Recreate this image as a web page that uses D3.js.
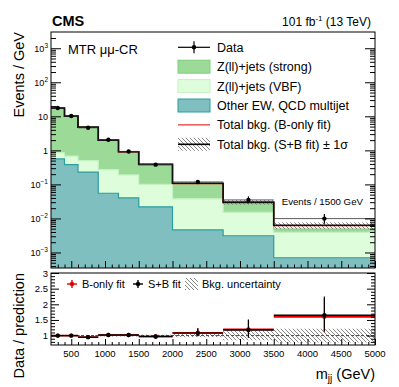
<!DOCTYPE html>
<html>
<head>
<meta charset="utf-8">
<script src="https://cdn.jsdelivr.net/npm/d3@7"></script>
<style>
body { margin: 0; background: #fff; }
svg text { font-family: "Liberation Sans", Arial, Helvetica, sans-serif; fill: #000; }
</style>
</head>
<body>
<div class="svg-container"></div>
<script>
var width = 399;
var height = 387;

// binning in m_jj (GeV)
var binEdges = [200, 400, 600, 900, 1200, 1500, 2000, 2750, 3500, 5000];
var binCenters = [300, 500, 750, 1050, 1350, 1750, 2375, 3125, 4250];

// events / GeV
var dataVals = [17.5, 10.2, 4.6, 2.04, 0.93, 0.38, 0.118, 0.035, 0.0099];
var dataErrUp = [0.03, 0.03, 0.04, 0.05, 0.06, 0.07, 0.14, 0.27, 0.36];   // relative
var dataErrDown = [0.03, 0.03, 0.04, 0.05, 0.06, 0.07, 0.09, 0.21, 0.30]; // relative
var otherEW = [0.56, 0.38, 0.23, 0.055, 0.040, 0.022, 0.0046, 0.0031, 0.0007];
var zjetsVBF = [0.29, 0.30, 0.27, 0.215, 0.15, 0.078, 0.033, 0.012, 0.0032];
var zjetsStrong = [16.6, 9.5, 4.3, 1.73, 0.72, 0.29, 0.07, 0.014, 0.001];
var totalSB = [17.5, 10.2, 4.8, 2.0, 0.91, 0.39, 0.108, 0.030, 0.0063];
var totalB = [17.3, 10.1, 4.75, 1.98, 0.90, 0.385, 0.106, 0.029, 0.0061];
var bkgUnc = [0.02, 0.02, 0.02, 0.03, 0.03, 0.03, 0.05, 0.15, 0.22]; // relative

// data / prediction
var ratioSB = [1.0, 1.0, 0.95, 1.02, 1.02, 0.97, 1.08, 1.18, 1.65];
var ratioB = [1.0, 1.0, 0.95, 1.02, 1.02, 0.97, 1.09, 1.20, 1.60];
var ratioErrUp = [0.03, 0.03, 0.03, 0.04, 0.05, 0.06, 0.15, 0.32, 0.60];
var ratioErrDown = [0.03, 0.03, 0.03, 0.04, 0.05, 0.06, 0.10, 0.25, 0.50];

// axis ticks
var xMajor = [500, 1000, 1500, 2000, 2500, 3000, 3500, 4000, 4500, 5000];
var yMajor = [1e-3, 1e-2, 1e-1, 1, 10, 100, 1000];
var yExponents = [-3, -2, -1, 0, 1, 2, 3];
var ratioMajor = [1, 1.5, 2, 2.5, 3];
var ratioLabels = ["1", "1.5", "2", "2.5", "3"];

var legendLabels = ["Data", "Z(ll)+jets (strong)", "Z(ll)+jets (VBF)", "Other EW, QCD multijet",
                    "Total bkg. (B-only fit)", "Total bkg. (S+B fit) \u00b1 1\u03c3"];

var colors = { strong: "#9cdb97", strongLine: "#7fcf7c",
               vbf: "#ddfddb", vbfLine: "#c4f2c2",
               other: "#80bfbf", otherLine: "#2b9e9e" };

var frame = { left: 51, right: 375, top: 32, bottom: 268 };
var rframe = { top: 273, bottom: 345 };

var svg = d3.select(".svg-container")
            .append("svg")
            .attr("width", width)
            .attr("height", height);

var defs = svg.append("defs");
var hatch = defs.append("pattern")
                .attr("id", "hatch")
                .attr("patternUnits", "userSpaceOnUse")
                .attr("width", 4)
                .attr("height", 4);
hatch.append("path")
     .attr("d", "M-1,3 L1,5 M0,0 L4,4 M3,-1 L5,1")
     .attr("stroke", "#555")
     .attr("stroke-width", 0.7);

defs.append("clipPath").attr("id", "mainClip")
    .append("rect")
    .attr("x", frame.left).attr("y", frame.top)
    .attr("width", frame.right - frame.left).attr("height", frame.bottom - frame.top);

// scales
var x = d3.scaleLinear().domain([200, 5000]).range([frame.left, frame.right]);
var y = d3.scaleLog().domain([3.5e-4, 3e3]).range([frame.bottom, frame.top]).clamp(true);
var yr = d3.scaleLinear().domain([0.7, 3]).range([rframe.bottom, rframe.top]);

function stepPoints(vals) {
    var pts = vals.map(function(v, i) { return { x: binEdges[i], v: v }; });
    pts.push({ x: binEdges[binEdges.length - 1], v: vals[vals.length - 1] });
    return pts;
}

// ---------- main panel ----------
var main = svg.append("g").attr("clip-path", "url(#mainClip)");

var rows = otherEW.map(function(d, i) {
    return { other: otherEW[i], vbf: zjetsVBF[i], strong: zjetsStrong[i] };
});
var stacked = d3.stack().keys(["other", "vbf", "strong"])(rows);

stacked.slice().reverse().forEach(function(layer) {
    var pts = layer.map(function(d, i) { return { x: binEdges[i], y0: d[0], y1: d[1] }; });
    var last = layer[layer.length - 1];
    pts.push({ x: binEdges[binEdges.length - 1], y0: last[0], y1: last[1] });

    var area = d3.area()
                 .curve(d3.curveStepAfter)
                 .x(function(d) { return x(d.x); })
                 .y0(function(d) { return y(Math.max(d.y0, 1e-5)); })
                 .y1(function(d) { return y(d.y1); });
    main.append("path")
        .datum(pts)
        .attr("fill", colors[layer.key])
        .attr("d", area);
});

// outline of each stacked layer
stacked.forEach(function(layer) {
    var line = d3.line()
                 .curve(d3.curveStepAfter)
                 .x(function(d) { return x(d.x); })
                 .y(function(d) { return y(d.v); });
    main.append("path")
        .datum(stepPoints(layer.map(function(d) { return d[1]; })))
        .attr("fill", "none")
        .attr("stroke", colors[layer.key + "Line"])
        .attr("stroke-width", 1.2)
        .attr("d", line);
});

// uncertainty band
main.selectAll(".band")
    .data(totalSB)
    .enter().append("rect")
    .attr("class", "band")
    .attr("x", function(d, i) { return x(binEdges[i]); })
    .attr("width", function(d, i) { return x(binEdges[i + 1]) - x(binEdges[i]); })
    .attr("y", function(d, i) { return y(d * (1 + bkgUnc[i])); })
    .attr("height", function(d, i) { return y(d * (1 - bkgUnc[i])) - y(d * (1 + bkgUnc[i])); })
    .attr("fill", "url(#hatch)");

var totLine = d3.line()
                .curve(d3.curveStepAfter)
                .x(function(d) { return x(d.x); })
                .y(function(d) { return y(d.v); });

main.append("path")
    .datum(stepPoints(totalB))
    .attr("fill", "none")
    .attr("stroke", "#d00000")
    .attr("stroke-width", 1.2)
    .attr("d", totLine);

main.append("path")
    .datum(stepPoints(totalSB))
    .attr("fill", "none")
    .attr("stroke", "#111")
    .attr("stroke-width", 1.7)
    .attr("d", totLine);

// data points
var dataG = main.append("g");
dataVals.forEach(function(v, i) {
    dataG.append("line")
         .attr("x1", x(binEdges[i])).attr("x2", x(binEdges[i + 1]))
         .attr("y1", y(v)).attr("y2", y(v))
         .attr("stroke", "#333").attr("stroke-width", 0.8);
    dataG.append("line")
         .attr("x1", x(binCenters[i])).attr("x2", x(binCenters[i]))
         .attr("y1", y(v * (1 + dataErrUp[i]))).attr("y2", y(v * (1 - dataErrDown[i])))
         .attr("stroke", "#000").attr("stroke-width", 1.2);
    dataG.append("circle")
         .attr("cx", x(binCenters[i])).attr("cy", y(v))
         .attr("r", 2.2).attr("fill", "#000");
});

// ticks (inward, ROOT style)
function noDomain(g) { g.select(".domain").remove(); }

var xMinor = d3.range(300, 5000, 100).filter(function(d) { return d % 500 !== 0; });
var yMinor = [];
d3.range(-4, 4).forEach(function(e) {
    d3.range(2, 10).forEach(function(m) { yMinor.push(m * Math.pow(10, e)); });
});
yMinor = yMinor.filter(function(d) { return d > 3.5e-4 && d < 3e3; });

svg.append("g").attr("transform", "translate(0," + frame.bottom + ")")
   .call(d3.axisBottom(x).tickValues(xMajor).tickSize(-7).tickFormat("")).call(noDomain);
svg.append("g").attr("transform", "translate(0," + frame.bottom + ")")
   .call(d3.axisBottom(x).tickValues(xMinor).tickSize(-3.5).tickFormat("")).call(noDomain);
svg.append("g").attr("transform", "translate(" + frame.left + ",0)")
   .call(d3.axisLeft(y).tickValues(yMajor).tickSize(-10).tickFormat("")).call(noDomain);
svg.append("g").attr("transform", "translate(" + frame.left + ",0)")
   .call(d3.axisLeft(y).tickValues(yMinor).tickSize(-5).tickFormat("")).call(noDomain);
svg.append("g").attr("transform", "translate(" + frame.right + ",0)")
   .call(d3.axisRight(y).tickValues(yMajor).tickSize(-10).tickFormat("")).call(noDomain);
svg.append("g").attr("transform", "translate(" + frame.right + ",0)")
   .call(d3.axisRight(y).tickValues(yMinor).tickSize(-5).tickFormat("")).call(noDomain);

svg.append("rect")
   .attr("x", frame.left).attr("y", frame.top)
   .attr("width", frame.right - frame.left).attr("height", frame.bottom - frame.top)
   .attr("fill", "none").attr("stroke", "#000").attr("stroke-width", 1);

// y tick labels
yMajor.forEach(function(v, i) {
    var t = svg.append("text")
               .attr("x", frame.left - 3)
               .attr("y", y(v) + 3.5)
               .attr("text-anchor", "end")
               .attr("font-size", 9);
    var e = yExponents[i];
    if (e === 0) { t.text("1"); }
    else if (e === 1) { t.text("10"); }
    else {
        t.append("tspan").text("10");
        t.append("tspan").attr("font-size", 6.5).attr("dy", -4).text(e < 0 ? "\u2212" + (-e) : e);
    }
});

// titles
svg.append("text").attr("x", 52).attr("y", 26)
   .attr("font-size", 14.5).attr("font-weight", "bold").text("CMS");

var lumi = svg.append("text").attr("x", 371).attr("y", 26)
              .attr("text-anchor", "end").attr("font-size", 12);
lumi.append("tspan").text("101 fb");
lumi.append("tspan").attr("font-size", 8).attr("dy", -5).text("-1");
lumi.append("tspan").attr("dy", 5).text(" (13 TeV)");

svg.append("text").attr("x", 68).attr("y", 54)
   .attr("font-size", 13).text("MTR \u03bc\u03bc-CR");

svg.append("text").attr("x", 363).attr("y", 205)
   .attr("text-anchor", "end").attr("font-size", 9.7).text("Events / 1500 GeV");

svg.append("text")
   .attr("transform", "translate(24," + frame.top + ") rotate(-90)")
   .attr("text-anchor", "end")
   .attr("font-size", 14.5)
   .text("Events / GeV");

// legend
var legX = 178, legW = 32, legTextX = 217;
var legY = [47.3, 66.7, 86.1, 105.5, 124.9, 144.3];
var leg = svg.append("g");

leg.append("line").attr("x1", legX).attr("x2", legX + legW)
   .attr("y1", legY[0]).attr("y2", legY[0]).attr("stroke", "#000").attr("stroke-width", 1.2);
leg.append("line").attr("x1", legX + legW / 2).attr("x2", legX + legW / 2)
   .attr("y1", legY[0] - 6).attr("y2", legY[0] + 6).attr("stroke", "#000").attr("stroke-width", 1.2);
leg.append("circle").attr("cx", legX + legW / 2).attr("cy", legY[0]).attr("r", 2.2).attr("fill", "#000");

[["strong", 1], ["vbf", 2], ["other", 3]].forEach(function(p) {
    leg.append("rect")
       .attr("x", legX).attr("y", legY[p[1]] - 6.5)
       .attr("width", legW).attr("height", 13)
       .attr("fill", colors[p[0]])
       .attr("stroke", colors[p[0] + "Line"]).attr("stroke-width", 1);
});

leg.append("line").attr("x1", legX).attr("x2", legX + legW)
   .attr("y1", legY[4]).attr("y2", legY[4]).attr("stroke", "#e00000").attr("stroke-width", 1);

leg.append("rect").attr("x", legX).attr("y", legY[5] - 6.5)
   .attr("width", legW).attr("height", 13).attr("fill", "url(#hatch)");
leg.append("line").attr("x1", legX).attr("x2", legX + legW)
   .attr("y1", legY[5]).attr("y2", legY[5]).attr("stroke", "#000").attr("stroke-width", 1.6);

legendLabels.forEach(function(l, i) {
    leg.append("text").attr("x", legTextX).attr("y", legY[i] + 4.5)
       .attr("font-size", 12.5).text(l);
});

// ---------- ratio panel ----------
defs.append("clipPath").attr("id", "ratioClip")
    .append("rect")
    .attr("x", frame.left).attr("y", rframe.top)
    .attr("width", frame.right - frame.left).attr("height", rframe.bottom - rframe.top);

var ratio = svg.append("g").attr("clip-path", "url(#ratioClip)");

ratio.selectAll(".rband")
     .data(bkgUnc)
     .enter().append("rect")
     .attr("x", function(d, i) { return x(binEdges[i]); })
     .attr("width", function(d, i) { return x(binEdges[i + 1]) - x(binEdges[i]); })
     .attr("y", function(d) { return yr(1 + d); })
     .attr("height", function(d) { return yr(1 - d) - yr(1 + d); })
     .attr("fill", "url(#hatch)");

ratio.append("line")
     .attr("x1", frame.left).attr("x2", frame.right)
     .attr("y1", yr(1)).attr("y2", yr(1))
     .attr("stroke", "#444").attr("stroke-width", 1)
     .attr("stroke-dasharray", "3,2");

function drawRatio(vals, color, width) {
    vals.forEach(function(v, i) {
        ratio.append("line")
             .attr("x1", x(binEdges[i])).attr("x2", x(binEdges[i + 1]))
             .attr("y1", yr(v)).attr("y2", yr(v))
             .attr("stroke", color).attr("stroke-width", width);
        ratio.append("line")
             .attr("x1", x(binCenters[i])).attr("x2", x(binCenters[i]))
             .attr("y1", yr(v + ratioErrUp[i])).attr("y2", yr(v - ratioErrDown[i]))
             .attr("stroke", color).attr("stroke-width", 1.2);
        ratio.append("circle")
             .attr("cx", x(binCenters[i])).attr("cy", yr(v))
             .attr("r", 2.2).attr("fill", color);
    });
}
drawRatio(ratioB, "#e00000", 1.6);
drawRatio(ratioSB, "#000", 1.4);

var rMinor = d3.range(0.8, 3.0, 0.1).filter(function(d) { return Math.abs(d * 2 - Math.round(d * 2)) > 0.01; });

svg.append("g").attr("transform", "translate(0," + rframe.bottom + ")")
   .call(d3.axisBottom(x).tickValues(xMajor).tickSize(-6).tickFormat("")).call(noDomain);
svg.append("g").attr("transform", "translate(0," + rframe.bottom + ")")
   .call(d3.axisBottom(x).tickValues(xMinor).tickSize(-3).tickFormat("")).call(noDomain);
svg.append("g").attr("transform", "translate(" + frame.left + ",0)")
   .call(d3.axisLeft(yr).tickValues(ratioMajor).tickSize(-8).tickFormat("")).call(noDomain);
svg.append("g").attr("transform", "translate(" + frame.left + ",0)")
   .call(d3.axisLeft(yr).tickValues(rMinor).tickSize(-4).tickFormat("")).call(noDomain);
svg.append("g").attr("transform", "translate(" + frame.right + ",0)")
   .call(d3.axisRight(yr).tickValues(ratioMajor).tickSize(-8).tickFormat("")).call(noDomain);
svg.append("g").attr("transform", "translate(" + frame.right + ",0)")
   .call(d3.axisRight(yr).tickValues(rMinor).tickSize(-4).tickFormat("")).call(noDomain);

svg.append("rect")
   .attr("x", frame.left).attr("y", rframe.top)
   .attr("width", frame.right - frame.left).attr("height", rframe.bottom - rframe.top)
   .attr("fill", "none").attr("stroke", "#000").attr("stroke-width", 1);

ratioMajor.forEach(function(v, i) {
    svg.append("text").attr("x", frame.left - 3).attr("y", yr(v) + 3.5)
       .attr("text-anchor", "end").attr("font-size", 9.5).text(ratioLabels[i]);
});
xMajor.forEach(function(v) {
    svg.append("text").attr("x", x(v)).attr("y", rframe.bottom + 11.5)
       .attr("text-anchor", "middle").attr("font-size", 9.5).text(v);
});

// ratio legend
var rl = svg.append("g");
var rlY = 284;
[[72, "#e00000", "B-only fit", 82], [138, "#000", "S+B fit", 148]].forEach(function(p) {
    rl.append("line").attr("x1", p[0] - 5).attr("x2", p[0] + 5)
      .attr("y1", rlY).attr("y2", rlY).attr("stroke", p[1]).attr("stroke-width", 1.4);
    rl.append("line").attr("x1", p[0]).attr("x2", p[0])
      .attr("y1", rlY - 4).attr("y2", rlY + 4).attr("stroke", p[1]).attr("stroke-width", 1.4);
    rl.append("circle").attr("cx", p[0]).attr("cy", rlY).attr("r", 2.2).attr("fill", p[1]);
    rl.append("text").attr("x", p[3]).attr("y", rlY + 4).attr("font-size", 11).text(p[2]);
});
rl.append("rect").attr("x", 185).attr("y", rlY - 6).attr("width", 13).attr("height", 12)
  .attr("fill", "url(#hatch)");
rl.append("text").attr("x", 202).attr("y", rlY + 4).attr("font-size", 11).text("Bkg. uncertainty");

svg.append("text")
   .attr("transform", "translate(24," + rframe.top + ") rotate(-90)")
   .attr("text-anchor", "end")
   .attr("font-size", 14.5)
   .text("Data / prediction");

var xl = svg.append("text").attr("x", frame.right).attr("y", 379)
            .attr("text-anchor", "end").attr("font-size", 14.5);
xl.append("tspan").text("m");
xl.append("tspan").attr("font-size", 10).attr("dy", 3).text("jj");
xl.append("tspan").attr("dy", -3).text(" (GeV)");
</script>
</body>
</html>
